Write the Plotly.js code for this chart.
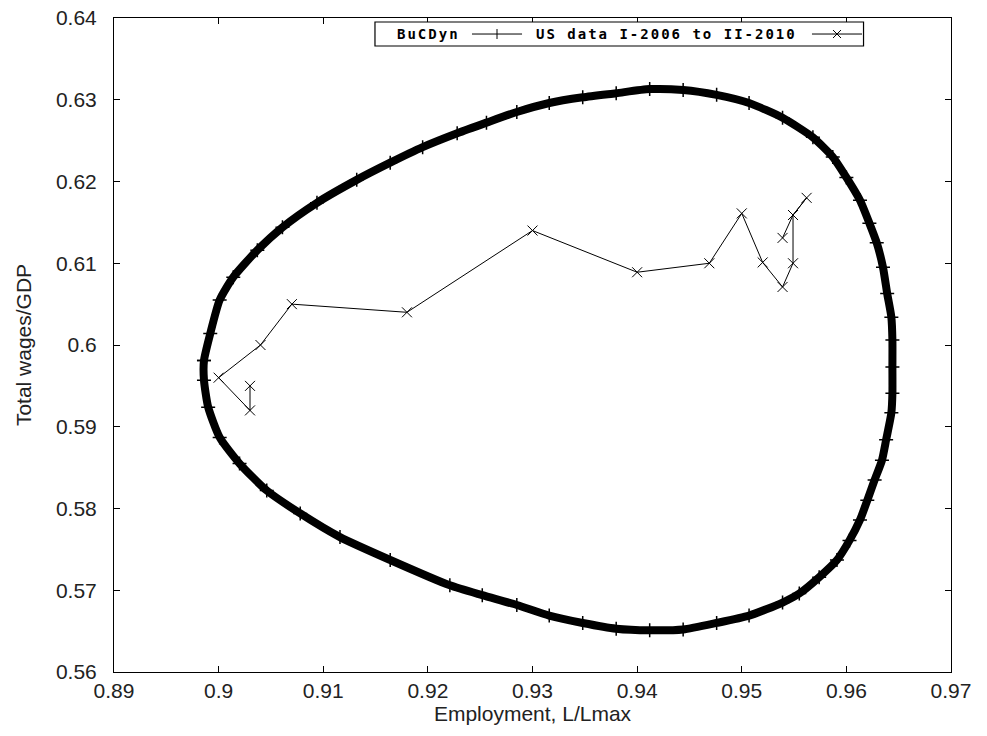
<!DOCTYPE html>
<html>
<head>
<meta charset="utf-8">
<script src="https://cdn.plot.ly/plotly-3.0.1.min.js"></script>
<style>
html,body{margin:0;padding:0;background:#fff;}
#chart{width:987px;height:736px;}
</style>
</head>
<body>
<div id="chart"></div>
<script>
// BuCDyn limit cycle (employment L/Lmax, wage share)
const bucdynX = [0.8986,0.8992,0.9001,0.9014,0.9037,0.9061,0.9094,0.9132,0.9164,0.9195,0.9228,0.9256,0.9285,0.9316,0.9348,0.9380,0.9412,0.9444,0.9476,0.9507,0.9539,0.9568,0.9587,0.9600,0.9613,0.9622,0.9629,0.9635,0.9639,0.9643,0.9644,0.9644,0.9644,0.9643,0.9638,0.9634,0.9627,0.9620,0.9613,0.9603,0.9591,0.9574,0.9555,0.9539,0.9507,0.9476,0.9444,0.9412,0.9380,0.9348,0.9316,0.9285,0.9252,0.9221,0.9164,0.9116,0.9078,0.9046,0.9020,0.9001,0.8990,0.8986,0.8986];
const bucdynY = [0.5981,0.6014,0.6055,0.6083,0.6116,0.6144,0.6174,0.6202,0.6223,0.6242,0.6259,0.6272,0.6285,0.6296,0.6303,0.6308,0.6313,0.6312,0.6306,0.6296,0.6278,0.6254,0.6230,0.6205,0.6177,0.6149,0.6125,0.6095,0.6063,0.6034,0.6006,0.5973,0.5941,0.5917,0.5884,0.5859,0.5835,0.5810,0.5786,0.5761,0.5737,0.5716,0.5696,0.5685,0.5669,0.5660,0.5652,0.5651,0.5653,0.5660,0.5669,0.5682,0.5694,0.5706,0.5737,0.5765,0.5794,0.5822,0.5855,0.5887,0.5924,0.5957,0.5981];

// US data I-2006 to II-2010
const usX = [0.9539,0.9549,0.9562,0.9549,0.9549,0.9539,0.9520,0.9500,0.9469,0.9400,0.9300,0.9180,0.9070,0.9040,0.9000,0.9030,0.9030];
const usY = [0.6131,0.6159,0.6180,0.6159,0.6100,0.6071,0.6101,0.6161,0.6100,0.6089,0.6140,0.6040,0.6050,0.6000,0.5960,0.5920,0.5950];

const xTickVals = [0.89,0.90,0.91,0.92,0.93,0.94,0.95,0.96,0.97];
const xTickText = ['0.89','0.9','0.91','0.92','0.93','0.94','0.95','0.96','0.97'];
const yTickVals = [0.56,0.57,0.58,0.59,0.60,0.61,0.62,0.63,0.64];
const yTickText = ['0.56','0.57','0.58','0.59','0.6','0.61','0.62','0.63','0.64'];

const seriesNames = ['BuCDyn','US data I-2006 to II-2010'];

const traces = [
  {x: bucdynX, y: bucdynY, mode: 'lines', type: 'scatter',
   line: {color: '#000', width: 8, shape: 'spline', smoothing: 0.6}, showlegend: false, hoverinfo: 'skip'},
  {x: bucdynX, y: bucdynY, mode: 'markers', type: 'scatter', name: seriesNames[0],
   marker: {symbol: 'cross-thin', size: 10, line: {color: '#000', width: 1.5}}, showlegend: false},
  {x: usX, y: usY, mode: 'lines+markers', type: 'scatter', name: seriesNames[1],
   line: {color: '#000', width: 1},
   marker: {symbol: 'x-thin', size: 10, line: {color: '#000', width: 1}}, showlegend: false}
];

const mono = {family: 'DejaVu Sans Mono', size: 14, color: '#000', weight: 'bold'};
function sp(t){ return '<span style="letter-spacing:2px">' + t + '</span>'; }

const shapes = [
  {type:'rect', xref:'paper', yref:'paper', x0:0.3118, x1:0.8955, y0:0.9572, y1:0.9939,
   line:{color:'#000', width:1.2}, fillcolor:'#fff', layer:'above'},
  {type:'line', xref:'paper', yref:'paper', x0:0.4277, x1:0.4875, y0:0.9755, y1:0.9755, line:{color:'#000', width:1}},
  {type:'line', xref:'paper', yref:'paper', xsizemode:'pixel', ysizemode:'pixel', xanchor:0.4576, yanchor:0.9755,
   x0:0, x1:0, y0:-5, y1:5, line:{color:'#000', width:1}},
  {type:'line', xref:'paper', yref:'paper', x0:0.8339, x1:0.8937, y0:0.9755, y1:0.9755, line:{color:'#000', width:1}},
  {type:'line', xref:'paper', yref:'paper', xsizemode:'pixel', ysizemode:'pixel', xanchor:0.8638, yanchor:0.9755,
   x0:-4, x1:4, y0:-4, y1:4, line:{color:'#000', width:1}},
  {type:'line', xref:'paper', yref:'paper', xsizemode:'pixel', ysizemode:'pixel', xanchor:0.8638, yanchor:0.9755,
   x0:-4, x1:4, y0:4, y1:-4, line:{color:'#000', width:1}}
];

const annotations = [
  {xref:'paper', yref:'paper', x:0.3763, y:0.9755, text: sp(seriesNames[0]), showarrow:false,
   xanchor:'center', yanchor:'middle', font: mono},
  {xref:'paper', yref:'paper', x:0.6595, y:0.9755, text: sp(seriesNames[1]), showarrow:false,
   xanchor:'center', yanchor:'middle', font: mono}
];

const tickFont = {family: 'Liberation Sans, Arial, sans-serif', size: 21, color: '#222'};
const titleFont = {family: 'Liberation Sans, Arial, sans-serif', size: 21, color: '#222'};

const layout = {
  width: 987, height: 736,
  margin: {l: 114, r: 36, t: 18, b: 64},
  paper_bgcolor: '#fff', plot_bgcolor: '#fff',
  showlegend: false,
  font: tickFont,
  xaxis: {
    range: [0.89, 0.97], tickvals: xTickVals, ticktext: xTickText,
    ticks: 'inside', ticklen: 6, tickcolor: '#000', tickwidth: 1,
    showline: true, linecolor: '#000', linewidth: 1, mirror: 'ticks',
    showgrid: false, zeroline: false, tickfont: tickFont,
    title: {text: 'Employment, L/Lmax', font: titleFont, standoff: 0}
  },
  yaxis: {
    range: [0.56, 0.64], tickvals: yTickVals, ticktext: yTickText,
    ticks: 'inside', ticklen: 6, tickcolor: '#000', tickwidth: 1,
    showline: true, linecolor: '#000', linewidth: 1, mirror: 'ticks',
    showgrid: false, zeroline: false, tickfont: tickFont, ticklabelstandoff: 12,
    title: {text: 'Total wages/GDP', font: titleFont, standoff: 18}
  },
  shapes: shapes,
  annotations: annotations
};

Plotly.newPlot('chart', traces, layout, {displayModeBar: false, staticPlot: true});
</script>
</body>
</html>
